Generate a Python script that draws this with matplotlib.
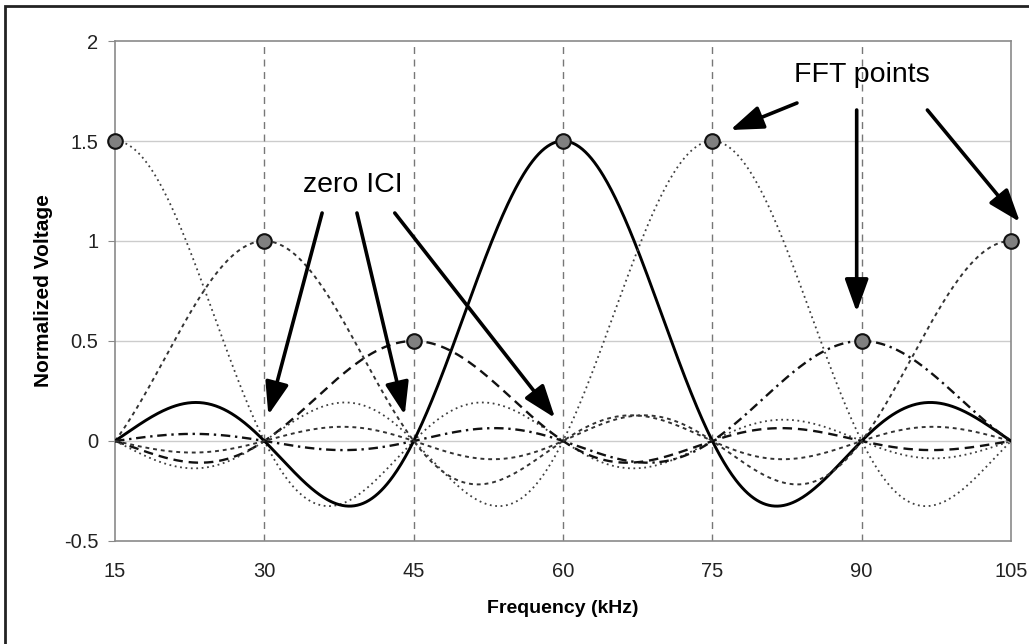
"""OFDM 부반송파 스펙트럼 — sinc 곡선 7개, FFT 지점 마커, zero ICI / FFT points 화살표."""

import matplotlib

matplotlib.use("Agg")
import matplotlib.pyplot as plt
import numpy as np
from matplotlib.patches import Rectangle

plt.rcParams["font.family"] = ["Liberation Sans", "DejaVu Sans"]

# 부반송파 중심 주파수(kHz)와 FFT 지점 진폭
CENTERS = [15, 30, 45, 60, 75, 90, 105]
AMPS = [1.5, 1.0, 0.5, 1.5, 1.5, 0.5, 1.0]
SPACING = 15
XTICKS = [15, 30, 45, 60, 75, 90, 105]
YTICKS = [-0.5, 0, 0.5, 1, 1.5, 2]
YTICK_LABELS = ["-0.5", "0", "0.5", "1", "1.5", "2"]

# 곡선별 스타일 (색, 선굵기, 선모양)
STYLES = [
    ("#3f3f3f", 1.3, (0, (1, 2.0))),
    ("#333333", 1.4, (0, (2, 2))),
    ("#111111", 1.7, (0, (4, 2.5))),
    ("#000000", 2.1, "-"),
    ("#3f3f3f", 1.3, (0, (1, 2.0))),
    ("#111111", 1.7, (0, (4, 2, 1, 2))),
    ("#333333", 1.4, (0, (2, 2))),
]

fig = plt.figure(figsize=(10.29, 6.44), dpi=100)
ax = fig.add_axes([0.1118, 0.160, 0.8707, 0.7763])

f = np.linspace(15, 105, 900)
for c, a, (col, lw, ls) in zip(CENTERS, AMPS, STYLES):
    ax.plot(f, a * np.sinc((f - c) / SPACING), color=col, lw=lw, ls=ls, zorder=3)

ax.plot(CENTERS, AMPS, ls="none", marker="o", ms=10.5, mfc="#808080", mec="#111111",
        mew=1.5, zorder=5, clip_on=False)

# 격자
for y in [0, 0.5, 1, 1.5]:
    ax.axhline(y, color="#cccccc", lw=1.0, zorder=1)
for x in XTICKS[1:-1]:
    ax.axvline(x, color="#777777", lw=1.0, ls=(0, (5, 4)), zorder=1)

ax.set_xlim(15, 105)
ax.set_ylim(-0.5, 2)
ax.set_xticks(XTICKS)
ax.set_yticks(YTICKS)
ax.set_yticklabels(YTICK_LABELS)
ax.tick_params(axis="both", labelsize=14.5, colors="#222222", length=5, color="#888888")
ax.tick_params(axis="x", length=0, pad=15)
ax.tick_params(axis="y", pad=7)
for s in ax.spines.values():
    s.set_color("#8a8a8a")
    s.set_linewidth(1.2)

ax.set_xlabel("Frequency (kHz)", fontsize=14, fontweight="bold", labelpad=14)
ax.set_ylabel("Normalized Voltage", fontsize=15, fontweight="bold", labelpad=8)

# 주석 화살표
arrow = dict(arrowstyle="-|>,head_length=2.0,head_width=0.72", color="black", lw=2.6,
             shrinkA=0, shrinkB=0)
ax.text(38.9, 1.28, "zero ICI", ha="center", va="center", fontsize=20.5, zorder=6)
for (xt, yt), (xh, yh) in [((35.8, 1.14), (30.4, 0.13)),
                           ((39.3, 1.14), (44.1, 0.13)),
                           ((43.1, 1.14), (59.2, 0.115))]:
    ax.annotate("", xy=(xh, yh), xytext=(xt, yt), arrowprops=arrow, zorder=6)

ax.text(90.0, 1.83, "FFT points", ha="center", va="center", fontsize=20.5, zorder=6)
for (xt, yt), (xh, yh) in [((83.5, 1.69), (76.8, 1.555)),
                           ((89.5, 1.655), (89.5, 0.645)),
                           ((96.6, 1.655), (105.9, 1.095))]:
    ax.annotate("", xy=(xh, yh), xytext=(xt, yt), arrowprops=arrow, zorder=6,
                annotation_clip=False)

# 바깥 테두리
fig.patches.append(Rectangle((0.005, -0.05), 1.2, 1.04, transform=fig.transFigure,
                             fill=False, ec="#222222", lw=2.0))

fig.savefig("out.png", dpi=100)
